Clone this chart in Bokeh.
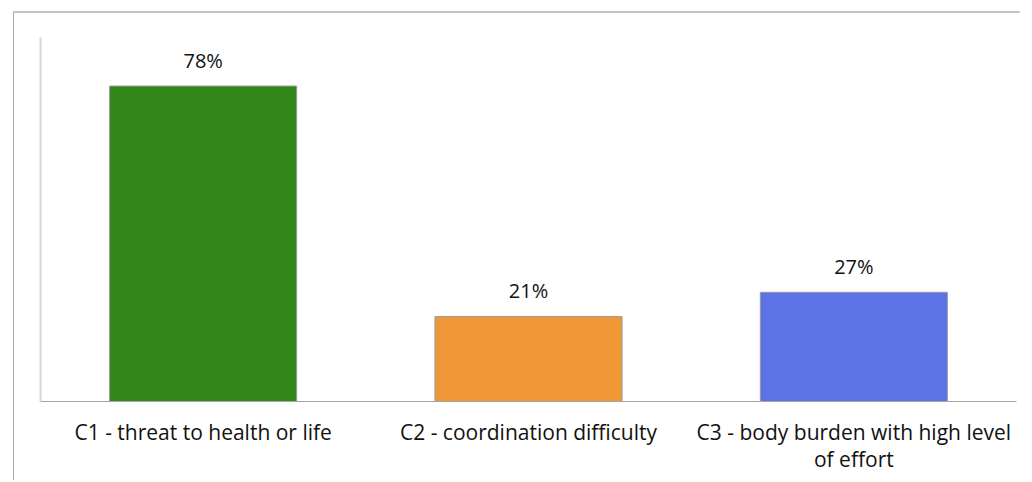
from bokeh.plotting import figure
from bokeh.models import ColumnDataSource, FactorRange, Range1d, FixedTicker
from bokeh.core.properties import value
from bokeh.embed import file_html
from bokeh.resources import INLINE

categories = ["C1 - threat to health or life",
              "C2 - coordination difficulty",
              "C3 - body burden with high level\nof effort"]
shares = [0.78, 0.21, 0.27]
share_labels = ["78%", "21%", "27%"]
colors = ["#32861A", "#F09837", "#5C73E8"]

src = ColumnDataSource(dict(cat=categories, val=shares, lab=share_labels, col=colors))

p = figure(x_range=FactorRange(*categories, range_padding=0),
           y_range=Range1d(0, 0.9),
           frame_width=976, frame_height=364,
           min_border_left=26, min_border_top=24, min_border_right=4, min_border_bottom=79,
           output_backend="svg", toolbar_location=None)
p.styles = {"margin-left": "13px", "margin-top": "11px",
            "border-left": "1px solid #acacac", "border-top": "2px solid #c4c4c4"}

p.vbar(x="cat", top="val", width=0.575, bottom=0, source=src,
       fill_color="col", line_color="#9a9a9a", line_width=1)

p.text(x="cat", y="val", text="lab", source=src, y_offset=-26,
       text_align="center", text_baseline="alphabetic",
       text_font=value("Open Sans"), text_font_size="20px", text_color="#111111")

p.xgrid.visible = False
p.ygrid.visible = False
p.outline_line_color = None

p.yaxis.ticker = FixedTicker(ticks=[])
p.yaxis.major_label_text_font_size = "0px"
p.yaxis.axis_line_color = "#d6d6d6"
p.yaxis.axis_line_width = 2
p.yaxis.major_tick_line_color = None
p.yaxis.minor_tick_line_color = None

p.xaxis.axis_line_color = "#a6a6a6"
p.xaxis.axis_line_width = 1
p.xaxis.major_tick_line_color = None
p.xaxis.minor_tick_line_color = None
p.xaxis.major_label_standoff = 10
p.xaxis.major_label_text_font = "Open Sans"
p.xaxis.major_label_text_font_size = "21px"
p.xaxis.major_label_text_line_height = 0.98
p.xaxis.major_label_text_color = "#111111"
p.xaxis.major_label_orientation = "horizontal"

open("out.html", "w").write(file_html(p, INLINE))
